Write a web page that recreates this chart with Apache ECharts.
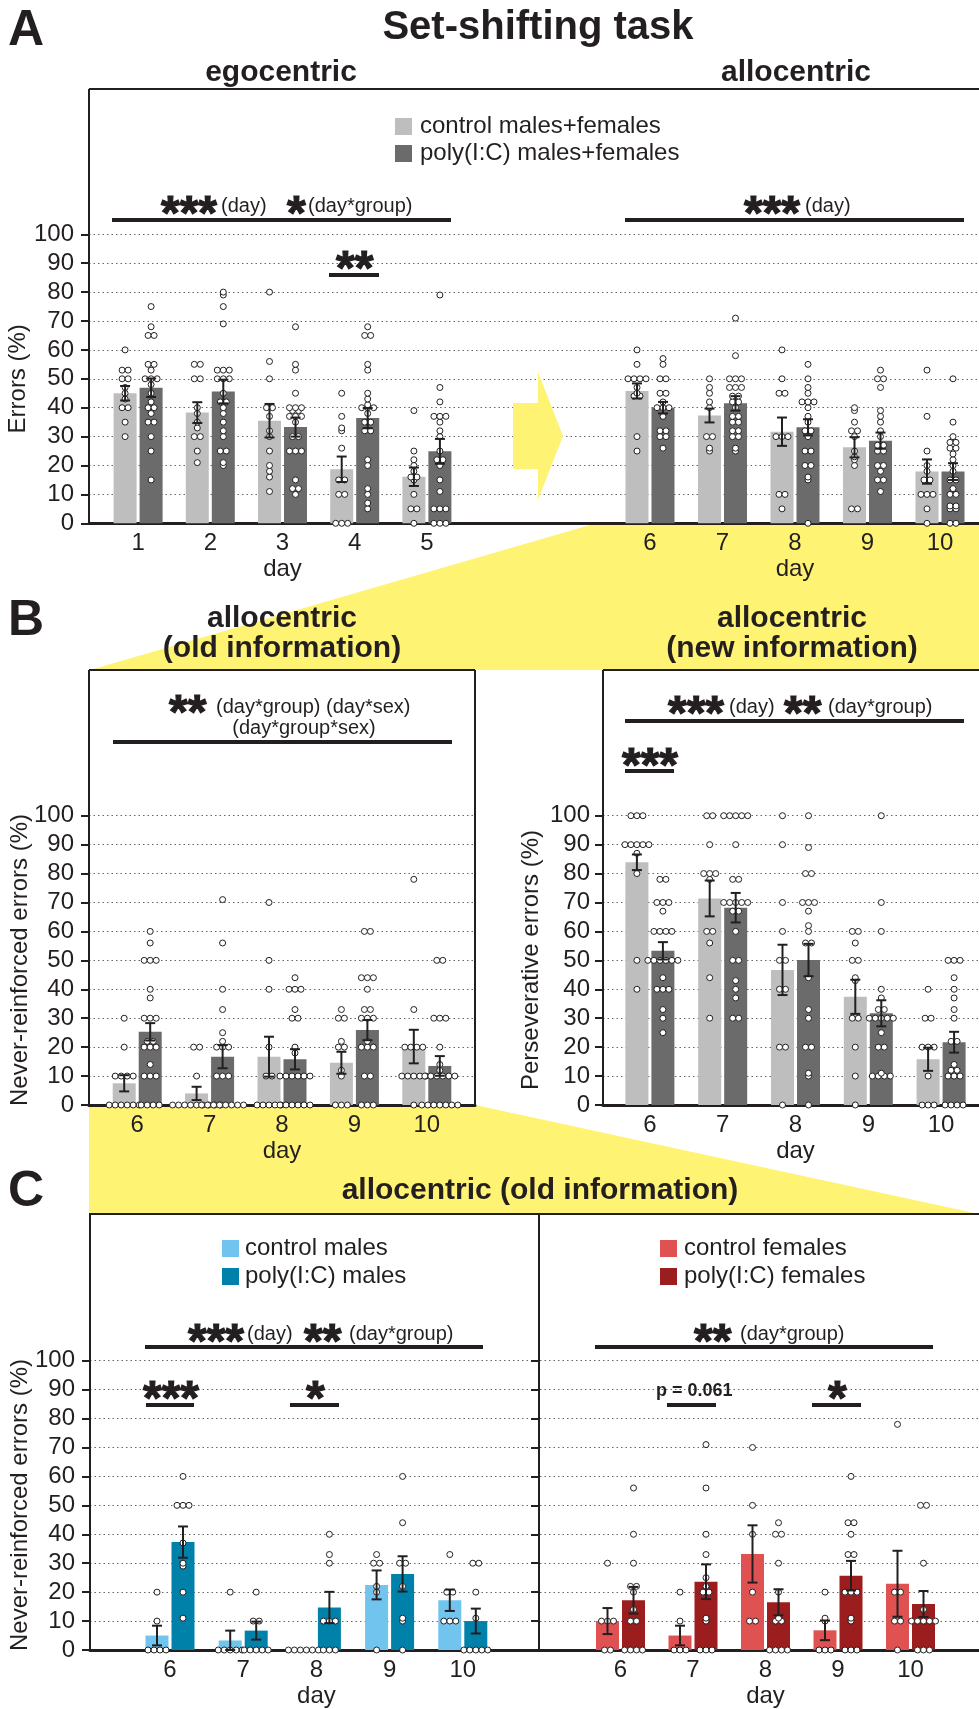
<!DOCTYPE html>
<html><head><meta charset="utf-8">
<script src="https://cdn.jsdelivr.net/npm/echarts@6.0.0/dist/echarts.min.js"></script>
<style>html,body{margin:0;padding:0;background:#fff;}#bg,#fg{position:absolute;left:0;top:0;width:979px;height:1709px;}</style>
</head><body><div id="bg"></div><div id="fg"></div>
<script>
// ---------------- DATA ----------------
const daysA1 = ['1', '2', '3', '4', '5'];
const daysLater = ['6', '7', '8', '9', '10'];
const yTicks = [0, 100, 10]; // min, max, interval

// Panel A: errors (%), days 1-10
const A_ctrl_mean = [45.0, 38.3, 35.5, 18.7, 16.1, 45.8, 37.3, 31.7, 26.3, 17.9];
const A_ctrl_sem  = [2.5, 3.6, 5.8, 4.4, 3.2, 2.6, 2.4, 4.9, 3.5, 4.2];
const A_poly_mean = [46.9, 45.6, 33.3, 36.4, 24.9, 40.0, 41.5, 33.2, 28.6, 17.9];
const A_poly_sem  = [3.2, 4.1, 3.3, 3.5, 4.3, 2.0, 2.5, 2.8, 2.8, 2.9];
const A_ctrl_pts = [
  [60,53,53,50,50,47,45,43,40,40,35,30],
  [55,55,50,50,40,38,35,33,30,30,25,21],
  [80,56,50,40,40,37,32,30,25,20,18,16,11],
  [45,37,33,32,26,15,15,10,10,0,0,0],
  [39,25,22,20,18,16,16,15,10,5,5,0],
  [60,55,50,50,50,50,47,45,44,44,30,25],
  [50,47,45,42,40,30,30,26,25],
  [60,50,45,45,30,30,30,10,10,5],
  [40,39,35,32,32,30,25,23,22,20,5,5],
  [53,37,25,20,18,15,15,10,10,10,5,0]
];
const A_poly_pts = [
  [75,68,65,65,55,55,53,50,50,50,48,45,42,40,40,38,35,35,30,25,15],
  [80,79,75,69,53,53,53,50,50,50,45,42,42,40,38,35,32,30,25,25,21,20],
  [68,55,53,45,40,40,40,39,39,37,37,37,35,30,30,25,25,25,15,12,12,10],
  [68,65,65,55,53,45,43,41,40,40,40,38,35,35,32,32,22,20,12,10,7,5],
  [79,47,42,37,37,37,35,32,30,25,22,22,20,15,11,5,5,5,0,0,0],
  [57,55,50,50,45,45,42,40,40,40,37,32,32,30,30,26],
  [71,58,50,50,50,47,47,47,44,44,42,42,40,37,37,35,35,32,32,30,30,26,25],
  [55,50,47,45,42,42,42,40,37,35,32,32,30,25,25,20,20,16,15,0],
  [53,50,50,47,39,37,35,32,30,27,27,25,25,20,20,18,15,15,11],
  [50,35,30,28,28,26,26,24,22,20,18,15,15,12,10,10,6,6,5,5,0,0]
];

// Panel B left: never-reinforced errors (%), days 6-10
const Bold_ctrl_mean = [7.5, 4.0, 16.7, 14.6, 20.2];
const Bold_ctrl_sem  = [2.8, 2.3, 6.9, 3.8, 5.8];
const Bold_poly_mean = [25.3, 16.7, 15.8, 25.9, 13.5];
const Bold_poly_sem  = [3.0, 4.0, 3.5, 3.5, 3.4];
const Bold_ctrl_pts = [
  [30,20,10,10,10,10,0,0,0,0,0,0],
  [20,20,10,0,0,0,0,0,0,0,0,0],
  [70,50,40,20,10,10,0,0,0,0,0],
  [33,30,30,22,20,20,12,10,0,0,0],
  [78,33,20,20,20,20,10,10,10,10,10,0]
];
const Bold_poly_pts = [
  [60,56,50,50,50,40,37,30,30,30,22,22,20,20,20,14,10,10,10,0,0,0,0],
  [71,56,40,33,25,22,20,20,20,10,10,10,0,0,0,0,0,0,0,0],
  [44,40,40,40,33,30,30,20,18,10,10,10,10,10,10,0,0,0,0,0,0],
  [60,60,44,44,44,40,33,33,30,30,30,22,20,20,20,10,10,0,0,0],
  [50,50,30,30,30,20,14,12,10,10,10,10,10,10,0,0,0,0,0,0,0]
];

// Panel B right: perseverative errors (%), days 6-10
const Bnew_ctrl_mean = [83.9, 71.4, 46.7, 37.4, 15.8];
const Bnew_ctrl_sem  = [2.7, 6.2, 8.7, 5.9, 4.0];
const Bnew_poly_mean = [53.3, 68.2, 50.1, 31.7, 21.7];
const Bnew_poly_sem  = [3.0, 5.1, 5.6, 4.5, 3.6];
const Bnew_ctrl_pts = [
  [100,100,100,90,90,90,90,90,87,80,50,40],
  [100,100,90,80,80,80,78,60,60,56,44,30],
  [100,90,70,60,50,50,40,40,20,20,0],
  [60,60,56,50,50,44,43,30,30,20,10,0],
  [40,30,30,20,20,20,10,0,0,0]
];
const Bnew_poly_pts = [
  [78,78,70,70,70,67,60,60,60,60,50,50,50,50,50,50,44,40,40,40,33,30,25],
  [100,100,100,100,100,90,78,78,70,70,70,70,70,67,67,60,50,50,43,40,37,30,30],
  [100,89,80,80,70,70,70,67,62,60,56,56,44,33,30,20,20,11,10,0],
  [100,70,60,40,37,33,33,30,30,30,30,30,25,20,20,11,10,10,10,10],
  [50,50,50,44,40,37,33,30,22,22,14,12,12,10,10,10,0,0,0,0]
];

// Panel C left: males
const Cm_ctrl_mean = [5.0, 3.3, 0, 22.5, 17.2];
const Cm_ctrl_sem  = [3.4, 3.4, 0, 5.0, 3.7];
const Cm_poly_mean = [37.3, 6.7, 14.7, 26.3, 10.0];
const Cm_poly_sem  = [5.4, 3.1, 5.4, 6.1, 4.3];
const Cm_ctrl_pts = [[20,10,0,0,0,0],[20,0,0,0,0,0],[0,0,0,0,0,0],[33,30,30,22,20,0],[33,20,20,10,10,10]];
const Cm_poly_pts = [[60,50,50,50,37,30,29,20,11],[20,10,10,0,0,0,0,0],[40,33,30,10,10,10,0,0,0],[60,44,30,30,22,11,10,0],[30,30,20,11,0,0,0,0,0]];

// Panel C right: females
const Cf_ctrl_mean = [10.0, 5.0, 33.2, 6.8, 22.9];
const Cf_ctrl_sem  = [4.5, 3.4, 9.9, 3.4, 11.4];
const Cf_poly_mean = [17.2, 23.6, 16.5, 25.7, 15.9];
const Cf_poly_sem  = [4.6, 6.0, 4.5, 5.1, 4.5];
const Cf_ctrl_pts = [[30,10,10,10,0,0],[20,10,0,0,0],[70,50,40,20,10,10],[20,11,10,0,0,0],[78,20,20,10,10,0]];
const Cf_poly_pts = [[56,40,30,22,22,20,14,10,10,0,0,0,0],[71,56,40,33,25,22,20,20,11,10,0,0,0],[44,40,40,30,20,11,10,10,0,0,0,0],[60,44,44,40,33,33,20,20,20,11,10,0,0,0],[50,50,30,14,10,10,10,10,10,0,0,0]];

// ---------------- STYLE ----------------
const FONT = "'Liberation Sans', Arial, Helvetica, sans-serif";
const INK = '#231f20';
const COL = {
  ctrlGrey: '#bebebe', polyGrey: '#6b6b6b',
  ctrlM: '#70c4ee', polyM: '#0081aa',
  ctrlF: '#e05252', polyF: '#9b1d1d',
  yellow: '#fff373'
};
const BAR_W = 23, BAR_GAP_PX = 3, OFF = (BAR_W + BAR_GAP_PX) / 2, DOT_STEP = 6;

const grids = [], xAxes = [], yAxes = [], series = [];

function bgPanel(g, o) {
  const gi = grids.length;
  grids.push(Object.assign({ outerBoundsMode: 'none', containLabel: false }, g));
  xAxes.push({ gridIndex: gi, type: 'category', data: [''], show: o.xLine !== false,
    axisLine: { show: true, onZero: false, lineStyle: { color: INK, width: 3 } },
    axisTick: { show: false }, axisLabel: { show: false }, splitLine: { show: false } });
  yAxes.push({ gridIndex: gi, type: 'value', min: yTicks[0], max: yTicks[1], interval: yTicks[2],
    axisLine: { show: true, lineStyle: { color: INK, width: 2 } },
    axisTick: { show: true, length: 8, lineStyle: { color: INK, width: 2 } },
    axisLabel: { show: o.labels !== false, fontSize: 24, margin: o.margin || 15, color: INK, fontFamily: FONT },
    splitLine: { show: o.split !== false, lineStyle: { type: [1.5, 3], color: '#666', width: 1.2 } } });
}

function barPanel(g, cats, cMean, cSem, pMean, pSem, cPts, pPts, cCol, pCol) {
  const gi = grids.length;
  grids.push(Object.assign({ outerBoundsMode: 'none', containLabel: false }, g));
  const xi = xAxes.length, yi = yAxes.length;
  xAxes.push({ gridIndex: gi, type: 'category', data: cats,
    axisLine: { show: false }, axisTick: { show: false },
    axisLabel: { fontSize: 24, margin: 8, color: INK, fontFamily: FONT },
    name: 'day', nameLocation: 'middle', nameGap: 34,
    nameTextStyle: { fontSize: 24, color: INK, fontFamily: FONT } });
  yAxes.push({ gridIndex: gi, type: 'value', min: yTicks[0], max: yTicks[1], show: false });
  const groups = [[cMean, cSem, cPts, cCol, -OFF], [pMean, pSem, pPts, pCol, OFF]];
  groups.forEach(([m, s, pts, col, off]) => {
    series.push({ type: 'bar', xAxisIndex: xi, yAxisIndex: yi, data: m, barWidth: BAR_W,
      barGap: (BAR_GAP_PX / BAR_W * 100) + '%', itemStyle: { color: col }, silent: true, z: 2 });
  });
  groups.forEach(([m, s, pts, col, off]) => {
    const sdata = [];
    pts.forEach((arr, i) => {
      const counts = {};
      arr.forEach(v => { counts[v] = (counts[v] || 0) + 1; });
      Object.keys(counts).forEach(k => {
        const n = counts[k];
        for (let j = 0; j < n; j++) sdata.push({ value: [i, +k], symbolOffset: [off + (j - (n - 1) / 2) * DOT_STEP, 0] });
      });
    });
    series.push({ type: 'scatter', xAxisIndex: xi, yAxisIndex: yi, data: sdata, symbol: 'circle', symbolSize: 6,
      itemStyle: { color: '#ffffff', borderColor: INK, borderWidth: 1, opacity: 1 }, z: 3, silent: true, clip: false });
  });
  groups.forEach(([m, s, pts, col, off]) => {
    series.push({ type: 'custom', xAxisIndex: xi, yAxisIndex: yi, z: 4, silent: true, clip: false,
      data: m.map((v, i) => [i, v, s[i]]),
      renderItem: function (params, api) {
        const i = api.value(0), mv = api.value(1), sv = api.value(2);
        if (!sv) return null;
        const t = api.coord([i, mv + sv]), b = api.coord([i, Math.max(0, mv - sv)]);
        const x = t[0] + off;
        const st = { stroke: INK, lineWidth: 2 };
        return { type: 'group', children: [
          { type: 'line', shape: { x1: x, y1: t[1], x2: x, y2: b[1] }, style: st },
          { type: 'line', shape: { x1: x - 5, y1: t[1], x2: x + 5, y2: t[1] }, style: st },
          { type: 'line', shape: { x1: x - 5, y1: b[1], x2: x + 5, y2: b[1] }, style: st }
        ] };
      } });
  });
}

// ---------------- LAYOUT ----------------
const A_top = 234.3, A_h = 289;
const B_top = 815.7, B_h = 289.3;
const C_top = 1360.7, C_h = 289.3;

bgPanel({ left: 89, top: A_top, width: 890, height: A_h }, {});
barPanel({ left: 102, top: A_top, width: 361, height: A_h }, daysA1,
  A_ctrl_mean.slice(0, 5), A_ctrl_sem.slice(0, 5), A_poly_mean.slice(0, 5), A_poly_sem.slice(0, 5),
  A_ctrl_pts.slice(0, 5), A_poly_pts.slice(0, 5), COL.ctrlGrey, COL.polyGrey);
barPanel({ left: 613.75, top: A_top, width: 362.5, height: A_h }, daysLater,
  A_ctrl_mean.slice(5), A_ctrl_sem.slice(5), A_poly_mean.slice(5), A_poly_sem.slice(5),
  A_ctrl_pts.slice(5), A_poly_pts.slice(5), COL.ctrlGrey, COL.polyGrey);

bgPanel({ left: 89, top: B_top, width: 386, height: B_h }, {});
barPanel({ left: 101, top: B_top, width: 362, height: B_h }, daysLater,
  Bold_ctrl_mean, Bold_ctrl_sem, Bold_poly_mean, Bold_poly_sem, Bold_ctrl_pts, Bold_poly_pts, COL.ctrlGrey, COL.polyGrey);
bgPanel({ left: 603, top: B_top, width: 376, height: B_h }, { margin: 13 });
barPanel({ left: 613.5, top: B_top, width: 364, height: B_h }, daysLater,
  Bnew_ctrl_mean, Bnew_ctrl_sem, Bnew_poly_mean, Bnew_poly_sem, Bnew_ctrl_pts, Bnew_poly_pts, COL.ctrlGrey, COL.polyGrey);

bgPanel({ left: 90, top: C_top, width: 889, height: C_h }, {});
bgPanel({ left: 539, top: C_top, width: 440, height: C_h }, { labels: false, split: false, xLine: false });
barPanel({ left: 133.4, top: C_top, width: 366, height: C_h }, daysLater,
  Cm_ctrl_mean, Cm_ctrl_sem, Cm_poly_mean, Cm_poly_sem, Cm_ctrl_pts, Cm_poly_pts, COL.ctrlM, COL.polyM);
barPanel({ left: 584.25, top: C_top, width: 362.5, height: C_h }, daysLater,
  Cf_ctrl_mean, Cf_ctrl_sem, Cf_poly_mean, Cf_poly_sem, Cf_ctrl_pts, Cf_poly_pts, COL.ctrlF, COL.polyF);

// ---------------- ANNOTATIONS ----------------
function txt(x, y, s, size, o) {
  o = o || {};
  const al = o.align || 'left';
  const st = { text: s, fontSize: size, fontFamily: FONT, fontWeight: o.bold ? 'bold' : 'normal', fill: INK,
    textAlign: al, textVerticalAlign: 'middle', align: al, verticalAlign: 'middle' };
  if (o.heavy) { st.stroke = INK; st.lineWidth = o.heavy; }
  return { type: 'text', x: x, y: y, rotation: o.rot || 0, z: 50, silent: true, style: st };
}
function ln(x1, y1, x2, y2, w) {
  return { type: 'line', z: 50, silent: true, shape: { x1: x1, y1: y1, x2: x2, y2: y2 }, style: { stroke: INK, lineWidth: w } };
}
function stars(x, yc, n) { return txt(x, yc + 11, '*'.repeat(n), 48, { bold: true, heavy: 1.2 }); }
function box(x, y, w, h, c) { return { type: 'rect', z: 50, silent: true, shape: { x: x, y: y, width: w, height: h }, style: { fill: c } }; }
const ROT = Math.PI / 2;
const ANN = 20;

const graphics = [
  // arrow
  { type: 'polygon', z: 40, silent: true, shape: { points: [[513, 403], [538, 403], [538, 372], [563, 436], [538, 500], [538, 469], [513, 469]] }, style: { fill: COL.yellow } },
  // titles
  txt(8, 31, 'A', 50, { bold: true }),
  txt(538, 28, 'Set-shifting task', 40, { bold: true, align: 'center' }),
  txt(281, 73, 'egocentric', 30, { bold: true, align: 'center' }),
  txt(796, 73, 'allocentric', 30, { bold: true, align: 'center' }),
  txt(8, 621, 'B', 50, { bold: true }),
  txt(282, 619, 'allocentric', 30, { bold: true, align: 'center' }),
  txt(282, 649, '(old information)', 30, { bold: true, align: 'center' }),
  txt(792, 619, 'allocentric', 30, { bold: true, align: 'center' }),
  txt(792, 649, '(new information)', 30, { bold: true, align: 'center' }),
  txt(8, 1192, 'C', 50, { bold: true }),
  txt(540, 1191, 'allocentric (old information)', 30, { bold: true, align: 'center' }),
  // frames
  ln(89, 89, 979, 89, 2), ln(89, 89, 89, 523, 2),
  ln(89, 670, 475, 670, 2), ln(89, 670, 89, 1105, 2), ln(475, 670, 475, 1105, 2),
  ln(603, 670, 979, 670, 2), ln(603, 670, 603, 1105, 2),
  ln(89, 1214, 979, 1214, 2), ln(90, 1214, 90, 1650, 2), ln(539, 1214, 539, 1650, 2),
  // legends
  box(395, 118, 17, 17, COL.ctrlGrey), box(395, 145, 17, 17, COL.polyGrey),
  txt(420, 126.5, 'control males+females', 24), txt(420, 153.5, 'poly(I:C) males+females', 24),
  box(222, 1240, 17, 17, COL.ctrlM), box(222, 1268, 17, 17, COL.polyM),
  txt(245, 1248.5, 'control males', 24), txt(245, 1276.5, 'poly(I:C) males', 24),
  box(660, 1240, 17, 17, COL.ctrlF), box(660, 1268, 17, 17, COL.polyF),
  txt(684, 1248.5, 'control females', 24), txt(684, 1276.5, 'poly(I:C) females', 24),
  // axis titles
  txt(18, 378.8, 'Errors (%)', 24, { align: 'center', rot: ROT }),
  txt(20, 960, 'Never-reinforced errors (%)', 24, { align: 'center', rot: ROT }),
  txt(531, 960, 'Perseverative errors (%)', 24, { align: 'center', rot: ROT }),
  txt(20, 1505, 'Never-reinforced errors (%)', 24, { align: 'center', rot: ROT }),
  // significance A
  ln(112, 220, 451, 220, 4), stars(161, 205, 3), txt(221, 206, '(day)', ANN), stars(287, 205, 1), txt(308, 206, '(day*group)', ANN),
  stars(336, 260, 2), ln(329, 275, 379, 275, 4),
  ln(625, 220, 964, 220, 4), stars(744, 205, 3), txt(805, 206, '(day)', ANN),
  // significance B
  stars(169, 704, 2), txt(216, 707, '(day*group) (day*sex)', ANN), txt(304, 728, '(day*group*sex)', ANN, { align: 'center' }),
  ln(113, 742, 452, 742, 4),
  ln(625, 721, 964, 721, 4), stars(668, 705, 3), txt(729, 707, '(day)', ANN), stars(784, 705, 2), txt(828, 707, '(day*group)', ANN),
  stars(622, 757, 3), ln(625, 771, 674, 771, 4),
  // significance C
  ln(145, 1347, 483, 1347, 4), stars(188, 1333, 3), txt(247, 1334, '(day)', ANN), stars(304, 1333, 2), txt(349, 1334, '(day*group)', ANN),
  stars(143, 1390, 3), ln(146, 1405, 194, 1405, 4), stars(306, 1390, 1), ln(290, 1405, 339, 1405, 4),
  ln(595, 1347, 933, 1347, 4), stars(694, 1333, 2), txt(740, 1334, '(day*group)', ANN),
  txt(656, 1391, 'p = 0.061', 18, { bold: true }), ln(667, 1405, 716, 1405, 4),
  stars(828, 1390, 1), ln(812, 1405, 861, 1405, 4)
];

// ---------------- RENDER ----------------
const bg = echarts.init(document.getElementById('bg'), null, { renderer: 'canvas', width: 979, height: 1709 });
bg.setOption({
  animation: false, backgroundColor: '#ffffff',
  graphic: [
    { type: 'polygon', silent: true, shape: { points: [[597, 523], [979, 523], [979, 670], [90, 670]] }, style: { fill: COL.yellow } },
    { type: 'polygon', silent: true, shape: { points: [[89, 1105], [475, 1105], [979, 1214], [89, 1214]] }, style: { fill: COL.yellow } }
  ]
});
const fg = echarts.init(document.getElementById('fg'), null, { renderer: 'canvas', width: 979, height: 1709 });
fg.setOption({
  animation: false, backgroundColor: 'transparent',
  textStyle: { fontFamily: FONT, color: INK },
  grid: grids, xAxis: xAxes, yAxis: yAxes, series: series, graphic: graphics
});
</script></body></html>
